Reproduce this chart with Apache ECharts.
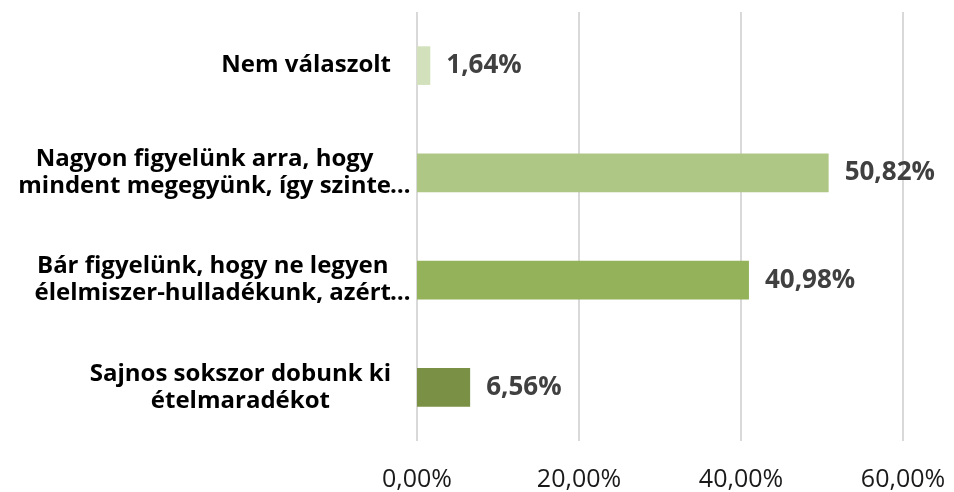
<!DOCTYPE html>
<html>
<head>
<meta charset="utf-8">
<script src="https://cdn.jsdelivr.net/npm/echarts@6/dist/echarts.min.js"></script>
<style>
  html, body { margin: 0; padding: 0; background: #fff; }
  #chart { width: 954px; height: 492px; }
</style>
</head>
<body>
<div id="chart"></div>
<script>
// answers, top to bottom
const categories = [
  "Nem válaszolt",
  "Nagyon figyelünk arra, hogy\nmindent megegyünk, így szinte…",
  "Bár figyelünk, hogy ne legyen\nélelmiszer-hulladékunk, azért…",
  "Sajnos sokszor dobunk ki\nételmaradékot"
];
const values = [1.64, 50.82, 40.98, 6.56];
const barColors = ["#D2E1BC", "#AFC785", "#93B25A", "#7A9044"];
const xTicks = [0, 20, 40, 60];

const fmt = v => v.toFixed(2).replace(".", ",") + "%";

// the ellipsis hangs past the right edge of the label block, like in Excel
const catSize = 24;
const ctx = document.createElement("canvas").getContext("2d");
ctx.font = "bold " + catSize + "px 'Open Sans'";
const padN = Math.round(ctx.measureText("…").width / ctx.measureText(" ").width);
const ellipsis = "\u00a0".repeat(padN) + "…";

const chart = echarts.init(document.getElementById("chart"));
chart.setOption({
  animation: false,
  textStyle: { fontFamily: "Open Sans" },
  grid: { left: 417, right: 51, top: 12, bottom: 51 },
  xAxis: {
    type: "value",
    min: xTicks[0],
    max: xTicks[xTicks.length - 1],
    interval: 20,
    axisLine: { show: false },
    axisTick: { show: false },
    splitLine: { lineStyle: { color: "#D9D9D9", width: 2 } },
    axisLabel: { color: "#1a1a1a", fontSize: 25, margin: 26, formatter: fmt }
  },
  yAxis: {
    type: "category",
    inverse: true,
    data: categories,
    axisLine: { show: false },
    axisTick: { show: false },
    axisLabel: {
      margin: 26,
      formatter: function (name) {
        return name.split("\n").map(function (line) {
          if (line.endsWith("…")) {
            return "{a|" + line.slice(0, -1) + "}{e|" + ellipsis + "}";
          }
          return "{a|" + line + "}";
        }).join("\n");
      },
      rich: {
        a: { fontSize: catSize, fontWeight: "bold", color: "#000", align: "center", lineHeight: 27, fontFamily: "Open Sans" },
        e: { fontSize: catSize, fontWeight: "bold", color: "#000", align: "center", lineHeight: 27, width: 0, fontFamily: "Open Sans" }
      }
    }
  },
  series: [{
    type: "bar",
    barWidth: "36%",
    data: values.map((v, i) => ({ value: v, itemStyle: { color: barColors[i] } })),
    label: {
      show: true,
      position: "right",
      distance: 16,
      color: "#404040",
      fontSize: 26,
      fontWeight: "bold",
      formatter: p => fmt(p.value)
    }
  }]
});
</script>
</body>
</html>
